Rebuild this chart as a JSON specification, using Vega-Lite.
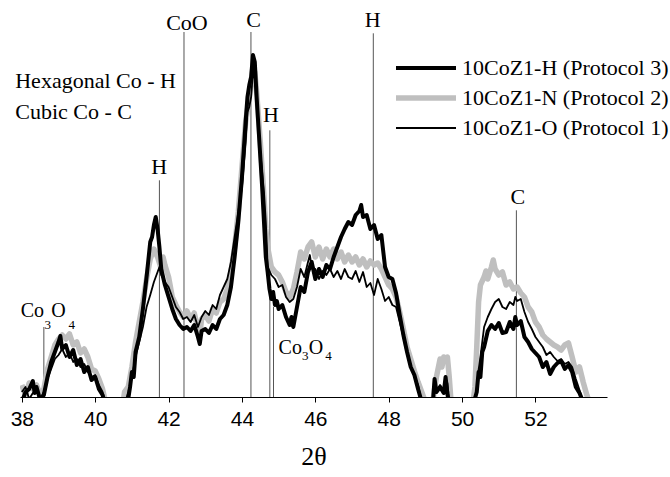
{
"$schema": "https://vega.github.io/schema/vega-lite/v6.json",
"width": 587, "height": 377,
"autosize": {"type": "none"},
"padding": {"left": 20, "top": 20, "right": 63, "bottom": 80},
"background": "white",
"config": {"view": {"stroke": null}, "font": "Liberation Serif"},
"datasets": {
"refs": [{"t":38.6,"top":70},{"t":41.75,"top":216.7},{"t":42.42,"top":365},{"t":44.245,"top":365},{"t":44.76,"top":266.7},{"t":44.86,"top":90},{"t":47.58,"top":363.7},{"t":51.48,"top":186.7}],
"lab_c": [{"t":42.5,"i":366.7,"txt":"CoO"},{"t":44.316,"i":370,"txt":"C"},{"t":44.79,"i":275,"txt":"H"},{"t":41.744,"i":223.4,"txt":"H"},{"t":47.566,"i":370,"txt":"H"},{"t":51.52,"i":193.4,"txt":"C"}],
"lab_l": [{"t":37.82,"i":309.4,"txt":"Hexagonal Co - H"},{"t":37.82,"i":278.4,"txt":"Cubic Co - C"}],
"lab_co": [{"t":37.97,"i":80,"txt":"Co"},{"t":38.8,"i":80,"txt":"O"},{"t":44.998,"i":43.4,"txt":"Co"},{"t":45.82,"i":43.4,"txt":"O"}],
"lab_sub": [{"t":38.616,"i":68.4,"txt":"3"},{"t":39.27,"i":68.4,"txt":"4"},{"t":45.636,"i":36.7,"txt":"3"},{"t":46.27,"i":36.7,"txt":"4"}],
"xrd": [
{"s":"H","t":38.0,"i":-5},{"s":"H","t":38.1,"i":5},{"s":"H","t":38.2,"i":8},{"s":"H","t":38.3,"i":16},{"s":"H","t":38.35,"i":4},{"s":"H","t":38.4,"i":10},{"s":"H","t":38.5,"i":-3},{"s":"H","t":38.6,"i":2},{"s":"H","t":38.7,"i":20},{"s":"H","t":38.8,"i":35},{"s":"H","t":38.9,"i":45},{"s":"H","t":39.0,"i":55},{"s":"H","t":39.05,"i":61},{"s":"H","t":39.1,"i":48},{"s":"H","t":39.2,"i":52},{"s":"H","t":39.3,"i":40},{"s":"H","t":39.4,"i":47},{"s":"H","t":39.5,"i":32},{"s":"H","t":39.6,"i":38},{"s":"H","t":39.7,"i":25},{"s":"H","t":39.8,"i":30},{"s":"H","t":39.9,"i":17},{"s":"H","t":40.0,"i":20},{"s":"H","t":40.1,"i":8},{"s":"H","t":40.2,"i":2},{"s":"H","t":40.3,"i":-10},{"s":"H","t":40.8,"i":-10},{"s":"H","t":40.9,"i":-2},{"s":"H","t":40.95,"i":10},{"s":"H","t":41.0,"i":25},{"s":"H","t":41.05,"i":20},{"s":"H","t":41.1,"i":45},{"s":"H","t":41.2,"i":60},{"s":"H","t":41.3,"i":88},{"s":"H","t":41.4,"i":120},{"s":"H","t":41.5,"i":155},{"s":"H","t":41.55,"i":160},{"s":"H","t":41.6,"i":172},{"s":"H","t":41.65,"i":180},{"s":"H","t":41.7,"i":168},{"s":"H","t":41.75,"i":150},{"s":"H","t":41.8,"i":128},{"s":"H","t":41.9,"i":112},{"s":"H","t":42.0,"i":100},{"s":"H","t":42.1,"i":88},{"s":"H","t":42.2,"i":78},{"s":"H","t":42.3,"i":72},{"s":"H","t":42.4,"i":68},{"s":"H","t":42.5,"i":70},{"s":"H","t":42.6,"i":66},{"s":"H","t":42.7,"i":72},{"s":"H","t":42.8,"i":60},{"s":"H","t":42.85,"i":53},{"s":"H","t":42.9,"i":66},{"s":"H","t":43.0,"i":68},{"s":"H","t":43.1,"i":64},{"s":"H","t":43.2,"i":72},{"s":"H","t":43.3,"i":68},{"s":"H","t":43.4,"i":78},{"s":"H","t":43.5,"i":82},{"s":"H","t":43.6,"i":92},{"s":"H","t":43.7,"i":110},{"s":"H","t":43.8,"i":140},{"s":"H","t":43.9,"i":175},{"s":"H","t":44.0,"i":220},{"s":"H","t":44.1,"i":275},{"s":"H","t":44.15,"i":300},{"s":"H","t":44.2,"i":312},{"s":"H","t":44.25,"i":320},{"s":"H","t":44.3,"i":342},{"s":"H","t":44.35,"i":335},{"s":"H","t":44.4,"i":300},{"s":"H","t":44.45,"i":270},{"s":"H","t":44.5,"i":240},{"s":"H","t":44.55,"i":210},{"s":"H","t":44.6,"i":175},{"s":"H","t":44.65,"i":140},{"s":"H","t":44.7,"i":125},{"s":"H","t":44.75,"i":108},{"s":"H","t":44.8,"i":98},{"s":"H","t":44.85,"i":105},{"s":"H","t":44.9,"i":92},{"s":"H","t":44.95,"i":96},{"s":"H","t":45.0,"i":88},{"s":"H","t":45.1,"i":92},{"s":"H","t":45.2,"i":80},{"s":"H","t":45.3,"i":72},{"s":"H","t":45.35,"i":80},{"s":"H","t":45.4,"i":70},{"s":"H","t":45.5,"i":90},{"s":"H","t":45.6,"i":110},{"s":"H","t":45.7,"i":105},{"s":"H","t":45.8,"i":125},{"s":"H","t":45.9,"i":135},{"s":"H","t":46.0,"i":118},{"s":"H","t":46.1,"i":128},{"s":"H","t":46.2,"i":120},{"s":"H","t":46.3,"i":132},{"s":"H","t":46.4,"i":128},{"s":"H","t":46.5,"i":140},{"s":"H","t":46.6,"i":150},{"s":"H","t":46.7,"i":160},{"s":"H","t":46.8,"i":168},{"s":"H","t":46.9,"i":175},{"s":"H","t":47.0,"i":172},{"s":"H","t":47.1,"i":182},{"s":"H","t":47.2,"i":186},{"s":"H","t":47.25,"i":192},{"s":"H","t":47.3,"i":180},{"s":"H","t":47.4,"i":182},{"s":"H","t":47.5,"i":168},{"s":"H","t":47.6,"i":172},{"s":"H","t":47.7,"i":158},{"s":"H","t":47.8,"i":162},{"s":"H","t":47.9,"i":130},{"s":"H","t":48.0,"i":120},{"s":"H","t":48.1,"i":118},{"s":"H","t":48.2,"i":104},{"s":"H","t":48.3,"i":82},{"s":"H","t":48.4,"i":62},{"s":"H","t":48.5,"i":45},{"s":"H","t":48.6,"i":30},{"s":"H","t":48.7,"i":22},{"s":"H","t":48.8,"i":8},{"s":"H","t":48.9,"i":-5},{"s":"H","t":49.2,"i":-8},{"s":"H","t":49.25,"i":18},{"s":"H","t":49.3,"i":5},{"s":"H","t":49.4,"i":10},{"s":"H","t":49.5,"i":4},{"s":"H","t":49.55,"i":20},{"s":"H","t":49.6,"i":3},{"s":"H","t":49.65,"i":-8},{"s":"H","t":50.3,"i":-8},{"s":"H","t":50.4,"i":5},{"s":"H","t":50.45,"i":25},{"s":"H","t":50.5,"i":20},{"s":"H","t":50.55,"i":45},{"s":"H","t":50.6,"i":50},{"s":"H","t":50.7,"i":66},{"s":"H","t":50.8,"i":72},{"s":"H","t":50.9,"i":68},{"s":"H","t":51.0,"i":74},{"s":"H","t":51.1,"i":64},{"s":"H","t":51.2,"i":65},{"s":"H","t":51.3,"i":75},{"s":"H","t":51.4,"i":68},{"s":"H","t":51.45,"i":80},{"s":"H","t":51.5,"i":72},{"s":"H","t":51.6,"i":76},{"s":"H","t":51.7,"i":60},{"s":"H","t":51.8,"i":55},{"s":"H","t":51.9,"i":48},{"s":"H","t":52.0,"i":44},{"s":"H","t":52.1,"i":40},{"s":"H","t":52.2,"i":30},{"s":"H","t":52.3,"i":35},{"s":"H","t":52.4,"i":23},{"s":"H","t":52.5,"i":30},{"s":"H","t":52.6,"i":34},{"s":"H","t":52.7,"i":36},{"s":"H","t":52.8,"i":28},{"s":"H","t":52.9,"i":32},{"s":"H","t":53.0,"i":25},{"s":"H","t":53.1,"i":10},{"s":"H","t":53.2,"i":4},{"s":"H","t":53.3,"i":-5},{"s":"H","t":53.5,"i":-10},
{"s":"N","t":38.0,"i":12},{"s":"N","t":38.1,"i":2},{"s":"N","t":38.2,"i":14},{"s":"N","t":38.3,"i":8},{"s":"N","t":38.4,"i":12},{"s":"N","t":38.5,"i":2},{"s":"N","t":38.6,"i":8},{"s":"N","t":38.7,"i":28},{"s":"N","t":38.8,"i":40},{"s":"N","t":38.9,"i":52},{"s":"N","t":39.0,"i":58},{"s":"N","t":39.1,"i":62},{"s":"N","t":39.2,"i":58},{"s":"N","t":39.3,"i":63},{"s":"N","t":39.4,"i":52},{"s":"N","t":39.5,"i":55},{"s":"N","t":39.6,"i":44},{"s":"N","t":39.7,"i":48},{"s":"N","t":39.8,"i":40},{"s":"N","t":39.9,"i":28},{"s":"N","t":40.0,"i":26},{"s":"N","t":40.1,"i":18},{"s":"N","t":40.2,"i":8},{"s":"N","t":40.3,"i":-8},{"s":"N","t":40.75,"i":-8},{"s":"N","t":40.8,"i":5},{"s":"N","t":40.9,"i":10},{"s":"N","t":41.0,"i":30},{"s":"N","t":41.1,"i":55},{"s":"N","t":41.2,"i":75},{"s":"N","t":41.3,"i":95},{"s":"N","t":41.4,"i":118},{"s":"N","t":41.5,"i":138},{"s":"N","t":41.6,"i":148},{"s":"N","t":41.7,"i":140},{"s":"N","t":41.8,"i":128},{"s":"N","t":41.85,"i":140},{"s":"N","t":41.9,"i":132},{"s":"N","t":42.0,"i":120},{"s":"N","t":42.1,"i":100},{"s":"N","t":42.2,"i":92},{"s":"N","t":42.3,"i":85},{"s":"N","t":42.4,"i":80},{"s":"N","t":42.5,"i":86},{"s":"N","t":42.6,"i":78},{"s":"N","t":42.7,"i":84},{"s":"N","t":42.8,"i":68},{"s":"N","t":42.85,"i":62},{"s":"N","t":42.9,"i":78},{"s":"N","t":43.0,"i":82},{"s":"N","t":43.1,"i":76},{"s":"N","t":43.2,"i":88},{"s":"N","t":43.3,"i":84},{"s":"N","t":43.4,"i":95},{"s":"N","t":43.5,"i":98},{"s":"N","t":43.6,"i":108},{"s":"N","t":43.7,"i":125},{"s":"N","t":43.8,"i":150},{"s":"N","t":43.9,"i":185},{"s":"N","t":44.0,"i":230},{"s":"N","t":44.1,"i":275},{"s":"N","t":44.2,"i":300},{"s":"N","t":44.3,"i":330},{"s":"N","t":44.35,"i":325},{"s":"N","t":44.4,"i":305},{"s":"N","t":44.5,"i":255},{"s":"N","t":44.6,"i":200},{"s":"N","t":44.65,"i":168},{"s":"N","t":44.7,"i":150},{"s":"N","t":44.8,"i":130},{"s":"N","t":44.9,"i":125},{"s":"N","t":45.0,"i":122},{"s":"N","t":45.1,"i":115},{"s":"N","t":45.2,"i":105},{"s":"N","t":45.3,"i":100},{"s":"N","t":45.4,"i":108},{"s":"N","t":45.5,"i":125},{"s":"N","t":45.6,"i":145},{"s":"N","t":45.7,"i":138},{"s":"N","t":45.8,"i":150},{"s":"N","t":45.9,"i":155},{"s":"N","t":46.0,"i":140},{"s":"N","t":46.1,"i":150},{"s":"N","t":46.2,"i":138},{"s":"N","t":46.3,"i":148},{"s":"N","t":46.4,"i":140},{"s":"N","t":46.5,"i":148},{"s":"N","t":46.6,"i":138},{"s":"N","t":46.7,"i":145},{"s":"N","t":46.8,"i":135},{"s":"N","t":46.9,"i":142},{"s":"N","t":47.0,"i":135},{"s":"N","t":47.1,"i":140},{"s":"N","t":47.2,"i":132},{"s":"N","t":47.3,"i":138},{"s":"N","t":47.4,"i":130},{"s":"N","t":47.5,"i":136},{"s":"N","t":47.6,"i":132},{"s":"N","t":47.7,"i":134},{"s":"N","t":47.8,"i":128},{"s":"N","t":47.9,"i":120},{"s":"N","t":48.0,"i":112},{"s":"N","t":48.1,"i":108},{"s":"N","t":48.2,"i":100},{"s":"N","t":48.3,"i":85},{"s":"N","t":48.4,"i":68},{"s":"N","t":48.5,"i":50},{"s":"N","t":48.6,"i":38},{"s":"N","t":48.7,"i":26},{"s":"N","t":48.8,"i":15},{"s":"N","t":48.9,"i":5},{"s":"N","t":49.0,"i":-5},{"s":"N","t":49.2,"i":-5},{"s":"N","t":49.25,"i":8},{"s":"N","t":49.3,"i":20},{"s":"N","t":49.4,"i":38},{"s":"N","t":49.45,"i":30},{"s":"N","t":49.5,"i":40},{"s":"N","t":49.55,"i":36},{"s":"N","t":49.6,"i":40},{"s":"N","t":49.65,"i":20},{"s":"N","t":49.7,"i":-5},{"s":"N","t":50.3,"i":-5},{"s":"N","t":50.35,"i":10},{"s":"N","t":50.4,"i":50},{"s":"N","t":50.45,"i":95},{"s":"N","t":50.5,"i":112},{"s":"N","t":50.6,"i":120},{"s":"N","t":50.65,"i":126},{"s":"N","t":50.7,"i":118},{"s":"N","t":50.8,"i":130},{"s":"N","t":50.85,"i":137},{"s":"N","t":50.9,"i":128},{"s":"N","t":51.0,"i":122},{"s":"N","t":51.1,"i":125},{"s":"N","t":51.2,"i":112},{"s":"N","t":51.3,"i":115},{"s":"N","t":51.4,"i":108},{"s":"N","t":51.5,"i":110},{"s":"N","t":51.6,"i":104},{"s":"N","t":51.7,"i":100},{"s":"N","t":51.8,"i":90},{"s":"N","t":51.9,"i":85},{"s":"N","t":52.0,"i":75},{"s":"N","t":52.1,"i":70},{"s":"N","t":52.2,"i":62},{"s":"N","t":52.3,"i":58},{"s":"N","t":52.4,"i":55},{"s":"N","t":52.5,"i":52},{"s":"N","t":52.6,"i":50},{"s":"N","t":52.7,"i":47},{"s":"N","t":52.8,"i":52},{"s":"N","t":52.9,"i":54},{"s":"N","t":53.0,"i":40},{"s":"N","t":53.1,"i":25},{"s":"N","t":53.2,"i":30},{"s":"N","t":53.3,"i":15},{"s":"N","t":53.4,"i":2},{"s":"N","t":53.5,"i":-8},
{"s":"O","t":38.0,"i":5},{"s":"O","t":38.1,"i":10},{"s":"O","t":38.2,"i":-2},{"s":"O","t":38.3,"i":4},{"s":"O","t":38.4,"i":8},{"s":"O","t":38.5,"i":-2},{"s":"O","t":38.6,"i":5},{"s":"O","t":38.7,"i":18},{"s":"O","t":38.8,"i":28},{"s":"O","t":38.9,"i":38},{"s":"O","t":39.0,"i":42},{"s":"O","t":39.1,"i":48},{"s":"O","t":39.2,"i":40},{"s":"O","t":39.3,"i":44},{"s":"O","t":39.4,"i":35},{"s":"O","t":39.5,"i":38},{"s":"O","t":39.6,"i":30},{"s":"O","t":39.7,"i":33},{"s":"O","t":39.8,"i":25},{"s":"O","t":39.9,"i":20},{"s":"O","t":40.0,"i":22},{"s":"O","t":40.1,"i":12},{"s":"O","t":40.2,"i":5},{"s":"O","t":40.3,"i":-8},{"s":"O","t":40.8,"i":-8},{"s":"O","t":40.9,"i":5},{"s":"O","t":41.0,"i":20},{"s":"O","t":41.1,"i":40},{"s":"O","t":41.2,"i":55},{"s":"O","t":41.3,"i":70},{"s":"O","t":41.4,"i":90},{"s":"O","t":41.5,"i":102},{"s":"O","t":41.6,"i":115},{"s":"O","t":41.7,"i":125},{"s":"O","t":41.75,"i":130},{"s":"O","t":41.8,"i":122},{"s":"O","t":41.9,"i":115},{"s":"O","t":42.0,"i":110},{"s":"O","t":42.1,"i":100},{"s":"O","t":42.2,"i":90},{"s":"O","t":42.3,"i":85},{"s":"O","t":42.4,"i":78},{"s":"O","t":42.5,"i":80},{"s":"O","t":42.6,"i":75},{"s":"O","t":42.7,"i":82},{"s":"O","t":42.8,"i":70},{"s":"O","t":42.9,"i":80},{"s":"O","t":43.0,"i":86},{"s":"O","t":43.1,"i":82},{"s":"O","t":43.2,"i":92},{"s":"O","t":43.3,"i":88},{"s":"O","t":43.4,"i":102},{"s":"O","t":43.5,"i":110},{"s":"O","t":43.6,"i":118},{"s":"O","t":43.7,"i":135},{"s":"O","t":43.8,"i":160},{"s":"O","t":43.9,"i":185},{"s":"O","t":44.0,"i":210},{"s":"O","t":44.1,"i":255},{"s":"O","t":44.15,"i":285},{"s":"O","t":44.2,"i":290},{"s":"O","t":44.25,"i":300},{"s":"O","t":44.3,"i":325},{"s":"O","t":44.35,"i":318},{"s":"O","t":44.4,"i":290},{"s":"O","t":44.5,"i":245},{"s":"O","t":44.6,"i":205},{"s":"O","t":44.65,"i":175},{"s":"O","t":44.68,"i":150},{"s":"O","t":44.7,"i":130},{"s":"O","t":44.8,"i":122},{"s":"O","t":44.9,"i":118},{"s":"O","t":45.0,"i":110},{"s":"O","t":45.1,"i":112},{"s":"O","t":45.2,"i":100},{"s":"O","t":45.3,"i":95},{"s":"O","t":45.4,"i":98},{"s":"O","t":45.5,"i":110},{"s":"O","t":45.6,"i":128},{"s":"O","t":45.7,"i":120},{"s":"O","t":45.8,"i":135},{"s":"O","t":45.85,"i":142},{"s":"O","t":45.9,"i":130},{"s":"O","t":46.0,"i":128},{"s":"O","t":46.1,"i":118},{"s":"O","t":46.2,"i":126},{"s":"O","t":46.3,"i":122},{"s":"O","t":46.4,"i":128},{"s":"O","t":46.5,"i":120},{"s":"O","t":46.6,"i":126},{"s":"O","t":46.7,"i":118},{"s":"O","t":46.8,"i":128},{"s":"O","t":46.9,"i":120},{"s":"O","t":47.0,"i":118},{"s":"O","t":47.1,"i":126},{"s":"O","t":47.2,"i":115},{"s":"O","t":47.3,"i":125},{"s":"O","t":47.4,"i":110},{"s":"O","t":47.5,"i":114},{"s":"O","t":47.6,"i":102},{"s":"O","t":47.7,"i":118},{"s":"O","t":47.8,"i":108},{"s":"O","t":47.9,"i":96},{"s":"O","t":48.0,"i":100},{"s":"O","t":48.1,"i":92},{"s":"O","t":48.2,"i":90},{"s":"O","t":48.3,"i":75},{"s":"O","t":48.4,"i":60},{"s":"O","t":48.5,"i":45},{"s":"O","t":48.6,"i":32},{"s":"O","t":48.7,"i":20},{"s":"O","t":48.8,"i":12},{"s":"O","t":48.9,"i":-5},{"s":"O","t":49.2,"i":-5},{"s":"O","t":49.25,"i":10},{"s":"O","t":49.3,"i":4},{"s":"O","t":49.4,"i":12},{"s":"O","t":49.5,"i":6},{"s":"O","t":49.6,"i":14},{"s":"O","t":49.65,"i":-5},{"s":"O","t":50.35,"i":-5},{"s":"O","t":50.4,"i":5},{"s":"O","t":50.45,"i":27},{"s":"O","t":50.5,"i":40},{"s":"O","t":50.6,"i":70},{"s":"O","t":50.7,"i":80},{"s":"O","t":50.8,"i":88},{"s":"O","t":50.9,"i":95},{"s":"O","t":51.0,"i":98},{"s":"O","t":51.1,"i":90},{"s":"O","t":51.2,"i":88},{"s":"O","t":51.3,"i":95},{"s":"O","t":51.4,"i":92},{"s":"O","t":51.45,"i":100},{"s":"O","t":51.5,"i":96},{"s":"O","t":51.6,"i":98},{"s":"O","t":51.7,"i":85},{"s":"O","t":51.8,"i":75},{"s":"O","t":51.9,"i":68},{"s":"O","t":52.0,"i":60},{"s":"O","t":52.1,"i":55},{"s":"O","t":52.2,"i":50},{"s":"O","t":52.3,"i":42},{"s":"O","t":52.4,"i":45},{"s":"O","t":52.5,"i":40},{"s":"O","t":52.6,"i":36},{"s":"O","t":52.7,"i":38},{"s":"O","t":52.8,"i":33},{"s":"O","t":52.9,"i":35},{"s":"O","t":53.0,"i":30},{"s":"O","t":53.1,"i":18},{"s":"O","t":53.2,"i":7},{"s":"O","t":53.3,"i":-5},{"s":"O","t":53.5,"i":-10}
]
},
"layer": [
{
"data": {"name": "refs"},
"mark": {"type": "rule", "color": "#555555", "strokeWidth": 1},
"encoding": {
"x": {"field": "t", "type": "quantitative",
"scale": {"domain": [37.95, 53.95], "nice": false, "zero": false},
"axis": {"values": [38,39,40,41,42,43,44,45,46,47,48,49,50,51,52,53],
"labelExpr": "datum.value % 2 === 0 ? datum.label : ''",
"grid": false, "tickSize": 5, "tickColor": "black", "domainColor": "black", "tickWidth": 1, "domainWidth": 1,
"labelFont": "Liberation Sans", "labelFontSize": 21, "labelColor": "black", "labelPadding": 6, "labelFlush": false,
"title": "2θ", "titleFont": "Liberation Serif", "titleFontSize": 26, "titleFontWeight": "normal", "titleColor": "black", "titlePadding": 14}},
"y": {"field": "top", "type": "quantitative", "scale": {"domain": [0, 377], "nice": false}, "axis": null},
"y2": {"datum": 0}
}
},
{
"data": {"name": "xrd"},
"transform": [{"filter": "datum.s == 'N'"}],
"mark": {"type": "line", "clip": true, "strokeJoin": "round", "strokeWidth": 5.5},
"encoding": {
"x": {"field": "t", "type": "quantitative"},
"y": {"field": "i", "type": "quantitative"},
"color": {"field": "s", "type": "nominal", "scale": {"domain": ["H","N","O"], "range": ["black", "#bfbfbf", "black"]},
"legend": {"orient": "none", "legendX": 395, "legendY": 37, "title": null, "symbolType": "M-3,0H3", "symbolSize": 400,
"labelFont": "Liberation Serif", "labelFontSize": 22, "labelColor": "black", "labelOffset": 25, "labelLimit": 0, "padding": 0, "rowPadding": 8,
"labelExpr": "datum.label == 'H' ? '10CoZ1-H (Protocol 3)' : datum.label == 'N' ? '10CoZ1-N (Protocol 2)' : '10CoZ1-O (Protocol 1)'",
"encode": {"symbols": {"update": {"strokeWidth": {"signal": "datum.value == 'H' ? 4 : datum.value == 'N' ? 5.5 : 1.8"}}}}}}
}
},
{
"data": {"name": "xrd"},
"transform": [{"filter": "datum.s == 'H'"}],
"mark": {"type": "line", "clip": true, "strokeJoin": "round", "strokeWidth": 4},
"encoding": {
"x": {"field": "t", "type": "quantitative"},
"y": {"field": "i", "type": "quantitative"},
"color": {"field": "s", "type": "nominal"}
}
},
{
"data": {"name": "xrd"},
"transform": [{"filter": "datum.s == 'O'"}],
"mark": {"type": "line", "clip": true, "strokeJoin": "round", "strokeWidth": 1.8},
"encoding": {
"x": {"field": "t", "type": "quantitative"},
"y": {"field": "i", "type": "quantitative"},
"color": {"field": "s", "type": "nominal"}
}
},
{
"data": {"name": "lab_c"},
"mark": {"type": "text", "font": "Liberation Serif", "fontSize": 22, "align": "center", "baseline": "alphabetic", "color": "black"},
"encoding": {"x": {"field": "t", "type": "quantitative"}, "y": {"field": "i", "type": "quantitative"}, "text": {"field": "txt", "type": "nominal"}}
},
{
"data": {"name": "lab_l"},
"mark": {"type": "text", "font": "Liberation Serif", "fontSize": 22, "align": "left", "baseline": "alphabetic", "color": "black"},
"encoding": {"x": {"field": "t", "type": "quantitative"}, "y": {"field": "i", "type": "quantitative"}, "text": {"field": "txt", "type": "nominal"}}
},
{
"data": {"name": "lab_co"},
"mark": {"type": "text", "font": "Liberation Serif", "fontSize": 20, "align": "left", "baseline": "alphabetic", "color": "black"},
"encoding": {"x": {"field": "t", "type": "quantitative"}, "y": {"field": "i", "type": "quantitative"}, "text": {"field": "txt", "type": "nominal"}}
},
{
"data": {"name": "lab_sub"},
"mark": {"type": "text", "font": "Liberation Serif", "fontSize": 13, "align": "left", "baseline": "alphabetic", "color": "black"},
"encoding": {"x": {"field": "t", "type": "quantitative"}, "y": {"field": "i", "type": "quantitative"}, "text": {"field": "txt", "type": "nominal"}}
}
]
}
